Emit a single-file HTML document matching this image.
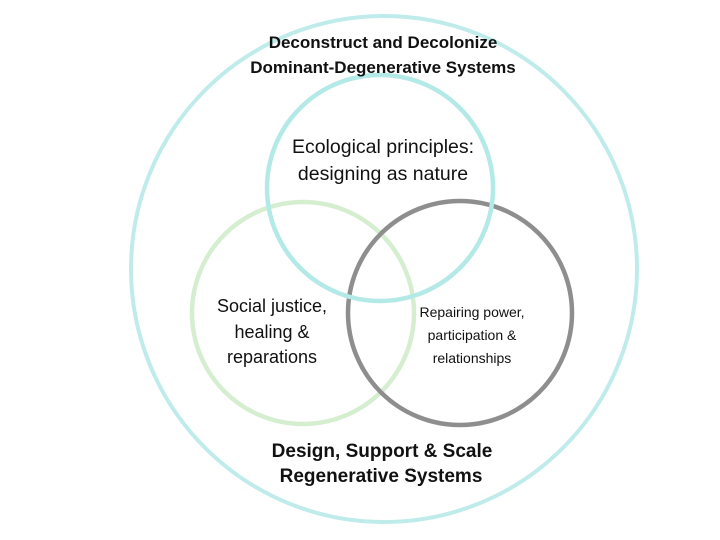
<!DOCTYPE html>
<html><head><meta charset="utf-8"><style>
html,body{margin:0;padding:0;background:#fff;width:720px;height:540px;overflow:hidden}
svg text{font-family:"Liberation Sans",sans-serif;fill:#111}
</style></head><body>
<svg width="720" height="540" viewBox="0 0 720 540">
<circle cx="384" cy="269" r="253" fill="none" stroke="#bfeceb" stroke-width="4"/>
<circle cx="303" cy="313" r="111" fill="none" stroke="#d6eed0" stroke-width="4.5"/>
<circle cx="460" cy="313" r="112" fill="none" stroke="#8e8e8e" stroke-width="4.5"/>
<circle cx="380" cy="188" r="113" fill="none" stroke="#b3e9e6" stroke-width="4.5"/>
<g font-weight="bold" font-size="17" text-anchor="middle">
<text x="383" y="48">Deconstruct and Decolonize</text>
<text x="383" y="73">Dominant-Degenerative Systems</text>
</g>
<g font-weight="bold" font-size="19" text-anchor="middle">
<text x="382" y="457">Design, Support &amp; Scale</text>
<text x="381" y="482">Regenerative Systems</text>
</g>
<g font-size="19.5" text-anchor="middle">
<text x="383" y="153">Ecological principles:</text>
<text x="383" y="180">designing as nature</text>
</g>
<g font-size="18" text-anchor="middle">
<text x="272" y="312">Social justice,</text>
<text x="272" y="338">healing &amp;</text>
<text x="272" y="363">reparations</text>
</g>
<g font-size="14" text-anchor="middle">
<text x="472" y="317">Repairing power,</text>
<text x="472" y="340">participation &amp;</text>
<text x="472" y="363">relationships</text>
</g>
</svg>
</body></html>
